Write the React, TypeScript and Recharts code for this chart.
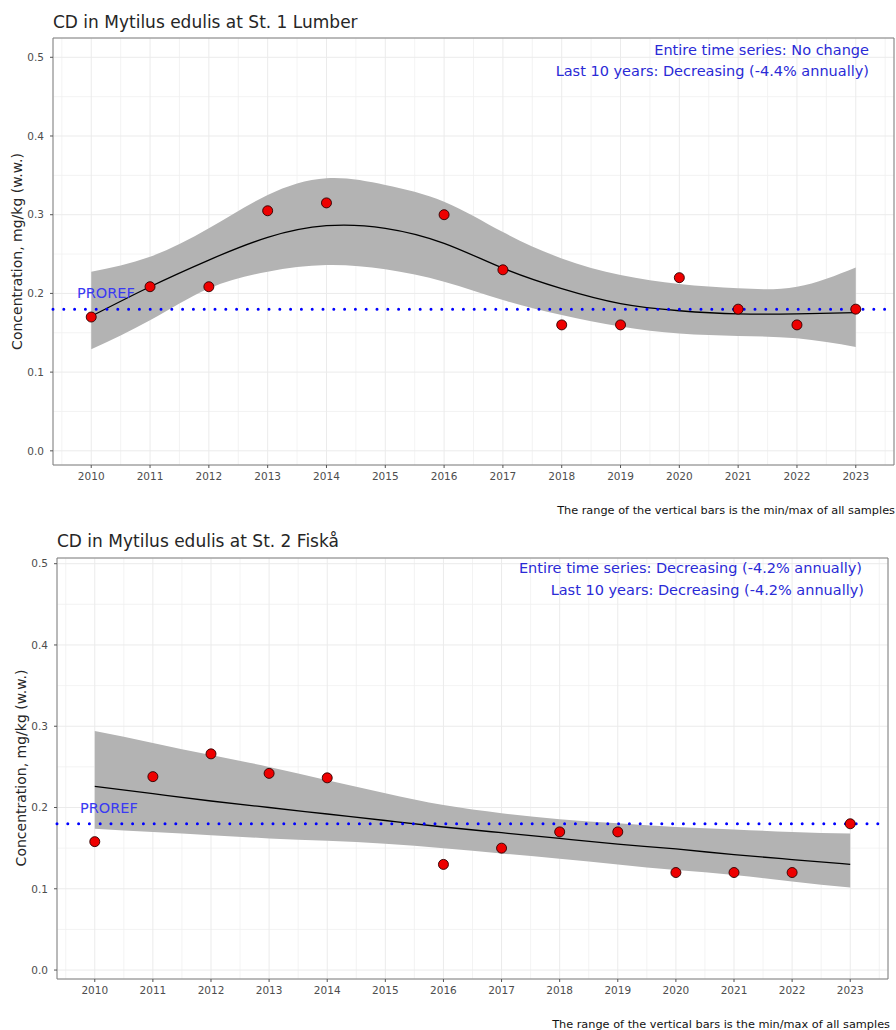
import React from 'react';
import {
  ComposedChart,
  Area,
  Line,
  Scatter,
  XAxis,
  YAxis,
  CartesianGrid,
  ReferenceLine,
  ReferenceArea,
} from 'recharts';

// years of the fitted trend (smooth line + confidence band)
const FIT_YEARS = [2010, 2011, 2012, 2013, 2014, 2015, 2016, 2017, 2018, 2019, 2020, 2021, 2022, 2023];
// years that have samples (no 2015)
const SAMPLE_YEARS = [2010, 2011, 2012, 2013, 2014, 2016, 2017, 2018, 2019, 2020, 2021, 2022, 2023];

// St. 1 Lumber
const S1_CONC = [0.17, 0.2085, 0.2085, 0.305, 0.315, 0.3, 0.23, 0.16, 0.16, 0.22, 0.18, 0.16, 0.18];
const S1_FIT = [0.171, 0.2085, 0.2424, 0.2712, 0.286, 0.2827, 0.2636, 0.232, 0.206, 0.187, 0.178, 0.174, 0.174, 0.1755];
const S1_LO = [0.129, 0.166, 0.2064, 0.2276, 0.236, 0.2306, 0.2148, 0.1915, 0.1725, 0.158, 0.149, 0.146, 0.143, 0.132];
const S1_HI = [0.2275, 0.2466, 0.2827, 0.325, 0.3463, 0.3378, 0.3166, 0.278, 0.2445, 0.2235, 0.212, 0.2065, 0.2085, 0.233];

// St. 2 Fiskå
const S2_CONC = [0.158, 0.238, 0.266, 0.242, 0.2365, 0.13, 0.15, 0.17, 0.17, 0.12, 0.12, 0.12, 0.18];
const S2_FIT = [0.226, 0.217, 0.208, 0.2, 0.192, 0.184, 0.176, 0.169, 0.162, 0.155, 0.149, 0.142, 0.136, 0.13];
const S2_LO = [0.174, 0.17, 0.166, 0.162, 0.159, 0.1555, 0.15, 0.1435, 0.137, 0.13, 0.123, 0.117, 0.109, 0.1015];
const S2_HI = [0.294, 0.2795, 0.2645, 0.25, 0.2335, 0.2175, 0.203, 0.193, 0.1855, 0.1805, 0.176, 0.173, 0.17, 0.168];

const PROREF = 0.18;

const X_TICKS = [2010, 2011, 2012, 2013, 2014, 2015, 2016, 2017, 2018, 2019, 2020, 2021, 2022, 2023];
const X_MINOR = [2009.5, 2010.5, 2011.5, 2012.5, 2013.5, 2014.5, 2015.5, 2016.5, 2017.5, 2018.5, 2019.5, 2020.5, 2021.5, 2022.5, 2023.5];
const Y_TICKS = [0, 0.1, 0.2, 0.3, 0.4, 0.5];
const Y_MINOR = [0.05, 0.15, 0.25, 0.35, 0.45];
const X_DOMAIN: [number, number] = [2009.35, 2023.65];

const FONT = 'DejaVu Sans, Verdana, sans-serif';
const TICK = { fill: '#4d4d4d', fontSize: 10.5, fontFamily: FONT };

const RedDot = (p: any) => (
  <circle cx={p.cx} cy={p.cy} r={5} fill="#ee0000" stroke="#2b0000" strokeWidth={0.9} />
);

interface PanelProps {
  top: number;
  height: number;
  marginTop: number;
  marginRight: number;
  yWidth: number;
  xHeight: number;
  yDomain: [number, number];
  conc: number[];
  fit: number[];
  lo: number[];
  hi: number[];
}

const Panel: React.FC<PanelProps> = (p) => {
  const fitData = FIT_YEARS.map((year, i) => ({ year, fit: p.fit[i], band: [p.lo[i], p.hi[i]] }));
  const points = SAMPLE_YEARS.map((year, i) => ({ year, conc: p.conc[i] }));

  return (
    <div style={{ position: 'absolute', left: 0, top: p.top }}>
      <ComposedChart
        width={896}
        height={p.height}
        data={fitData}
        margin={{ top: p.marginTop, right: p.marginRight, bottom: 0, left: 0 }}
      >
        <CartesianGrid
          stroke="#f0f0f0"
          strokeWidth={0.8}
          horizontalValues={Y_MINOR}
          verticalValues={X_MINOR}
        />
        <CartesianGrid stroke="#ebebeb" strokeWidth={1} />
        <XAxis
          dataKey="year"
          type="number"
          domain={X_DOMAIN}
          ticks={X_TICKS}
          allowDataOverflow
          height={p.xHeight}
          axisLine={false}
          tickLine={{ stroke: '#555' }}
          tickSize={3}
          tickMargin={5}
          tick={TICK}
          interval={0}
        />
        <YAxis
          type="number"
          domain={p.yDomain}
          ticks={Y_TICKS}
          allowDataOverflow
          width={p.yWidth}
          axisLine={false}
          tickLine={{ stroke: '#555' }}
          tickSize={3}
          tickMargin={6}
          tick={TICK}
          tickFormatter={(v: number) => v.toFixed(1)}
        />
        <ReferenceArea
          x1={X_DOMAIN[0]}
          x2={X_DOMAIN[1]}
          y1={p.yDomain[0]}
          y2={p.yDomain[1]}
          fill="none"
          stroke="#7f7f7f"
          strokeWidth={1}
        />
        <Area
          dataKey="band"
          type="natural"
          fill="#b3b3b3"
          fillOpacity={1}
          stroke="none"
          isAnimationActive={false}
        />
        <Line
          dataKey="fit"
          type="natural"
          stroke="#000"
          strokeWidth={1.3}
          dot={false}
          activeDot={false}
          isAnimationActive={false}
        />
        <ReferenceLine
          y={PROREF}
          stroke="#0000ff"
          strokeWidth={3}
          strokeDasharray="0 10.8"
          strokeLinecap="round"
        />
        <Scatter data={points} dataKey="conc" shape={RedDot} isAnimationActive={false} />
      </ComposedChart>
    </div>
  );
};

const BLUE = '#2a2ad6';
const PROREF_BLUE = '#3a3af2';
const DARK = '#262626';

export default function App() {
  return (
    <div style={{ position: 'absolute', left: 0, top: 0, width: 896, height: 1030, background: '#fff' }}>
      <Panel
        top={0}
        height={520}
        marginTop={38}
        marginRight={2}
        yWidth={53}
        xHeight={55}
        yDomain={[-0.018, 0.5245]}
        conc={S1_CONC}
        fit={S1_FIT}
        lo={S1_LO}
        hi={S1_HI}
      />
      <Panel
        top={530}
        height={500}
        marginTop={28}
        marginRight={8}
        yWidth={57}
        xHeight={51}
        yDomain={[-0.011, 0.507]}
        conc={S2_CONC}
        fit={S2_FIT}
        lo={S2_LO}
        hi={S2_HI}
      />
      <svg
        width={896}
        height={1030}
        style={{ position: 'absolute', left: 0, top: 0, pointerEvents: 'none' }}
        fontFamily={FONT}
      >
        {/* station 1 */}
        <text x={53} y={28} fontSize={17} fill={DARK}>CD in Mytilus edulis at St. 1 Lumber</text>
        <text x={869} y={55} fontSize={14.5} fill={BLUE} textAnchor="end">Entire time series: No change</text>
        <text x={869} y={76} fontSize={14.5} fill={BLUE} textAnchor="end">Last 10 years: Decreasing (-4.4% annually)</text>
        <text x={77} y={298} fontSize={14.5} fill={PROREF_BLUE}>PROREF</text>
        <text x={22} y={251.5} fontSize={14} fill={DARK} textAnchor="middle" transform="rotate(-90 22 251.5)">
          Concentration, mg/kg (w.w.)
        </text>
        <text x={895} y={514} fontSize={11.3} fill="#111" textAnchor="end">
          The range of the vertical bars is the min/max of all samples
        </text>

        {/* station 2 */}
        <text x={57} y={547} fontSize={17} fill={DARK}>CD in Mytilus edulis at St. 2 Fiskå</text>
        <text x={862} y={573} fontSize={14.5} fill={BLUE} textAnchor="end">Entire time series: Decreasing (-4.2% annually)</text>
        <text x={864} y={595} fontSize={14.5} fill={BLUE} textAnchor="end">Last 10 years: Decreasing (-4.2% annually)</text>
        <text x={80} y={813} fontSize={14.5} fill={PROREF_BLUE}>PROREF</text>
        <text x={26} y={768} fontSize={14} fill={DARK} textAnchor="middle" transform="rotate(-90 26 768)">
          Concentration, mg/kg (w.w.)
        </text>
        <text x={890} y={1028} fontSize={11.3} fill="#111" textAnchor="end">
          The range of the vertical bars is the min/max of all samples
        </text>
      </svg>
    </div>
  );
}
